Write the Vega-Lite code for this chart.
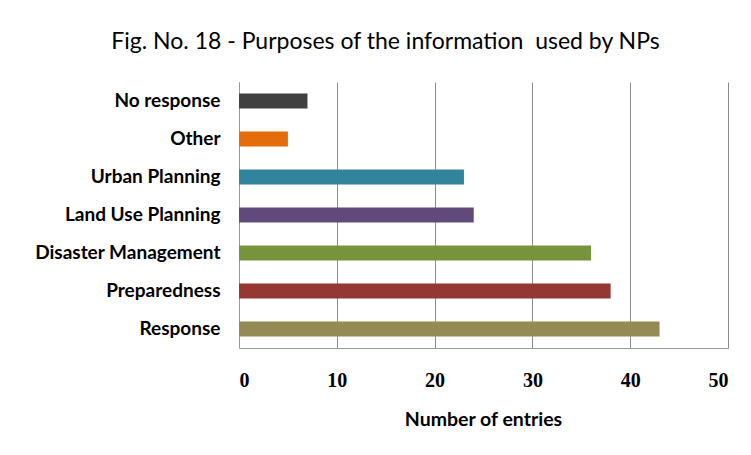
{
  "$schema": "https://vega.github.io/schema/vega-lite/v6.json",
  "width": 489,
  "height": 266,
  "autosize": {"type": "none"},
  "padding": {"left": 239, "top": 82, "right": 23, "bottom": 107},
  "background": "white",
  "title": {
    "text": "Fig. No. 18 - Purposes of the information\u00a0 used by NPs",
    "font": "Lato",
    "fontSize": 23,
    "fontWeight": "normal",
    "color": "#000000",
    "anchor": "middle",
    "frame": "group",
    "dx": -98,
    "offset": 28
  },
  "data": {
    "values": [
      {"purpose": "No response", "entries": 7, "color": "#404040"},
      {"purpose": "Other\u00a0\u00a0", "entries": 5, "color": "#E46C0A"},
      {"purpose": "Urban Planning\u00a0\u00a0", "entries": 23, "color": "#31849B"},
      {"purpose": "Land Use Planning", "entries": 24, "color": "#604A7B"},
      {"purpose": "Disaster Management", "entries": 36, "color": "#77933C"},
      {"purpose": "Preparedness\u00a0\u00a0", "entries": 38, "color": "#953735"},
      {"purpose": "Response", "entries": 43, "color": "#948A54"}
    ]
  },
  "mark": {"type": "bar"},
  "encoding": {
    "y": {
      "field": "purpose",
      "type": "nominal",
      "sort": null,
      "scale": {"paddingInner": 0.6, "paddingOuter": 0.3},
      "axis": {
        "title": null,
        "ticks": false,
        "domain": true,
        "domainColor": "#999999",
        "labelFont": "Lato",
        "labelFontSize": 19,
        "labelFontWeight": "bold",
        "labelColor": "#000000",
        "labelPadding": 19,
        "labelLimit": 300
      }
    },
    "x": {
      "field": "entries",
      "type": "quantitative",
      "scale": {"domain": [0, 50], "nice": false},
      "axis": {
        "title": "Number of entries",
        "values": [0, 10, 20, 30, 40, 50],
        "ticks": false,
        "grid": true,
        "gridColor": "#8c8c8c",
        "gridWidth": 1,
        "domainColor": "#999999",
        "labelFont": "Liberation Serif",
        "labelFontSize": 20,
        "labelFontWeight": "bold",
        "labelColor": "#000000",
        "labelPadding": 22,
        "titleFont": "Lato",
        "titleFontSize": 19.5,
        "titleFontWeight": "bold",
        "titleColor": "#000000",
        "titlePadding": 20,
        "titleX": 244
      }
    },
    "color": {"field": "color", "type": "nominal", "scale": null, "legend": null}
  },
  "config": {"view": {"stroke": null}}
}
